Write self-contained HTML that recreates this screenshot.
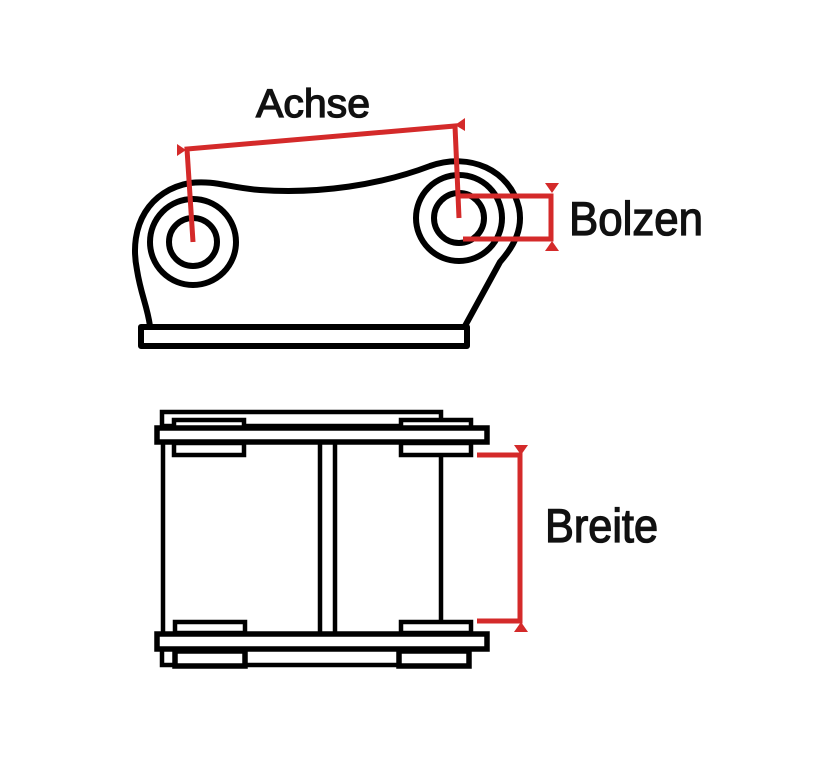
<!DOCTYPE html>
<html><head><meta charset="utf-8"><style>html,body{margin:0;padding:0;background:#fff}svg{display:block}</style></head>
<body>
<svg width="821" height="770" viewBox="0 0 821 770" xmlns="http://www.w3.org/2000/svg">
<rect width="821" height="770" fill="#fff"/>
<g fill="none" stroke="#000" stroke-width="6" stroke-linejoin="round">
  <path d="M150,326 C147,305 141,295 137,270 C128,225 150,190 190,183 C215,180 230,188 260,190 C320,194 380,185 430,166 C470,152 510,170 519,208 C523,228 515,245 500,262 L465,326"/>
  <rect x="141" y="327" width="326" height="19"/>
  <circle cx="193" cy="242" r="24"/>
  <circle cx="193" cy="242" r="43"/>
  <circle cx="459" cy="218" r="25"/>
  <circle cx="459" cy="218" r="43"/>
</g>
<g fill="#fff" stroke="#000" stroke-width="4.5">
  <rect x="162" y="412" width="279" height="14"/>
  <rect x="174" y="420" width="70" height="8"/>
  <rect x="401" y="420" width="70" height="8"/>
  <line x1="163" y1="443" x2="163" y2="635"/>
  <line x1="320" y1="443" x2="320" y2="634"/>
  <line x1="335" y1="443" x2="335" y2="634"/>
  <line x1="441" y1="456" x2="441" y2="622"/>
  <rect x="174" y="443" width="70" height="12"/>
  <rect x="401" y="443" width="70" height="12"/>
  <rect x="175" y="622" width="70" height="11"/>
  <rect x="401" y="622" width="70" height="11"/>
  <rect x="162" y="649" width="279" height="16"/>
  <rect x="175" y="651" width="70" height="15" stroke-width="5.5"/>
  <rect x="399" y="651" width="70" height="15" stroke-width="5.5"/>
  <rect x="157" y="428" width="330" height="14" stroke-width="5.5"/>
  <rect x="157" y="634" width="330" height="15" stroke-width="5.5"/>
</g>
<g stroke="#d42a2a" stroke-width="5" fill="none">
  <polyline points="193,242 187,149 455,126 459,218"/>
  <polyline points="459,196 551,196 551,239 463,239"/>
  <polyline points="477,455 520,455 520,621 477,621"/>
</g>
<g fill="#d42a2a">
  <polygon points="177,144 177,156 186,150"/>
  <polygon points="465,118 465,131 455,125"/>
  <polygon points="545,183 559,183 552,193"/>
  <polygon points="545,251 559,251 552,241"/>
  <polygon points="514,445 528,445 521,455"/>
  <polygon points="514,632 528,632 521,622"/>
</g>
<g font-family="'Liberation Sans', sans-serif" fill="#111" stroke="#111" stroke-width="1.3">
  <text x="256" y="117" font-size="40" textLength="114" lengthAdjust="spacingAndGlyphs">Achse</text>
  <text x="569" y="235" font-size="47" textLength="134" lengthAdjust="spacingAndGlyphs">Bolzen</text>
  <text x="545" y="542" font-size="47" textLength="113" lengthAdjust="spacingAndGlyphs">Breite</text>
</g>
</svg>
</body></html>
